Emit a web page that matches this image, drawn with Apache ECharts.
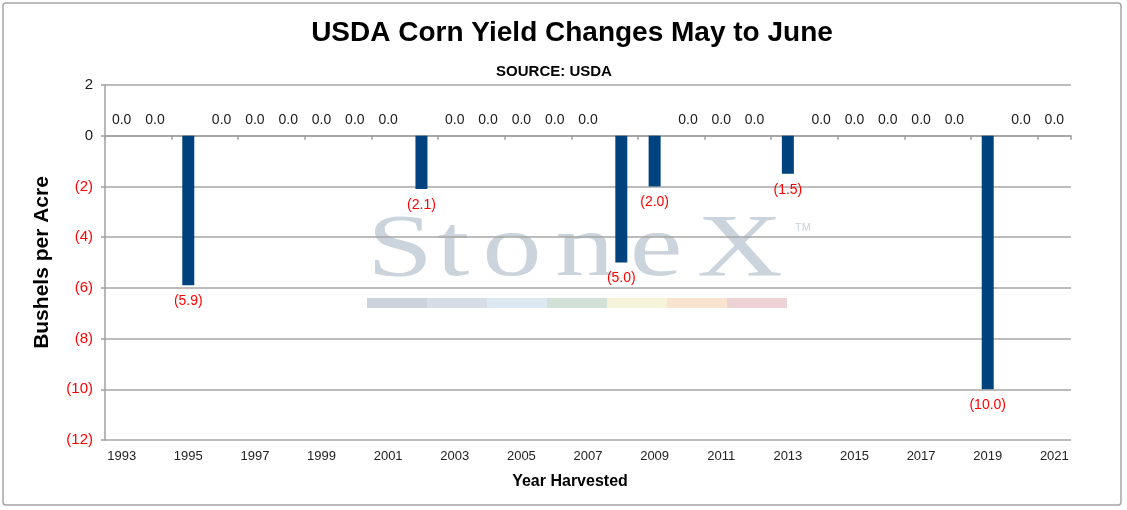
<!DOCTYPE html>
<html>
<head>
<meta charset="utf-8">
<script src="https://cdn.jsdelivr.net/npm/echarts@6/dist/echarts.min.js"></script>
<style>
html,body{margin:0;padding:0;background:#fff;}
#chart{width:1127px;height:510px;}
</style>
</head>
<body>
<div id="chart"></div>
<script>
const years = ['1993','1994','1995','1996','1997','1998','1999','2000','2001','2002','2003','2004','2005','2006','2007','2008','2009','2010','2011','2012','2013','2014','2015','2016','2017','2018','2019','2020','2021'];
const yieldChange = [0,0,-5.9,0,0,0,0,0,0,-2.1,0,0,0,0,0,-5.0,-2.0,0,0,0,-1.5,0,0,0,0,0,-10.0,0,0];
const yMin = -12, yMax = 2, yStep = 2;

const FONT = '"Liberation Sans", Arial, sans-serif';
const fmt = v => v < 0 ? '(' + Math.abs(v).toFixed(1) + ')' : v.toFixed(1);

const barData = yieldChange.map(v => ({
  value: v,
  label: {
    position: v < 0 ? 'bottom' : 'top',
    distance: 9,
    color: v < 0 ? '#ff0000' : '#1a1a1a'
  }
}));

const wmColor = '#cbd3dc';
const letters = [['S',400],['t',453],['o',512],['n',585],['e',656],['X',740]];
const stripColors = ['#cdd3dc','#d6dde6','#dde9f2','#d3e2d8','#f5f4db','#f8e4cf','#eed3d6'];

const graphics = [
  {type:'rect', shape:{x:3,y:3,width:1118,height:502,r:3}, style:{fill:'none',stroke:'#a6a6a6',lineWidth:1.5}, z:-20},
  {type:'text', x:572, y:33, style:{text:'USDA Corn Yield Changes May to June', font:'bold 28px '+FONT, fill:'#000', textAlign:'center', textVerticalAlign:'middle'}},
  {type:'text', x:554, y:72, style:{text:'SOURCE: USDA', font:'bold 15px '+FONT, fill:'#000', textAlign:'center', textVerticalAlign:'middle'}},
  {type:'text', x:570, y:482, style:{text:'Year Harvested', font:'bold 16px '+FONT, fill:'#000', textAlign:'center', textVerticalAlign:'middle'}},
  {type:'text', x:803, y:228, z:-10, style:{text:'TM', font:'11px '+FONT, fill:wmColor, textAlign:'center', textVerticalAlign:'middle'}}
];
letters.forEach(([ch,x]) => {
  graphics.push({type:'text', x:x, y:252, scaleX:1.35, z:-10,
    style:{text:ch, font:'88px "Liberation Serif", "Times New Roman", serif', fill:wmColor, textAlign:'center', textVerticalAlign:'middle'}});
});
stripColors.forEach((c,i) => {
  graphics.push({type:'rect', z:-10, shape:{x:367+i*60,y:298,width:60,height:10}, style:{fill:c}});
});

const chart = echarts.init(document.getElementById('chart'));
chart.setOption({
  animation:false,
  backgroundColor:'#fff',
  textStyle:{fontFamily:FONT},
  grid:{left:105,right:56,top:85,bottom:70,containLabel:false},
  graphic:graphics,
  xAxis:[
    {type:'category', data:years, position:'bottom',
     axisLine:{show:false,onZero:false}, axisTick:{show:false}, splitLine:{show:false},
     axisLabel:{interval:1, color:'#222', fontSize:13, margin:10, fontFamily:FONT}},
    {type:'category', data:years, position:'bottom',
     axisLine:{show:true,onZero:true,lineStyle:{color:'#a0a0a0',width:1.5}},
     axisTick:{show:true,length:4,lineStyle:{color:'#a0a0a0',width:1.5}},
     axisLabel:{show:false}, splitLine:{show:false}}
  ],
  yAxis:{type:'value', min:yMin, max:yMax, interval:yStep,
    name:'Bushels per Acre', nameLocation:'middle', nameGap:52,
    nameTextStyle:{fontSize:21, fontWeight:'bold', color:'#000', fontFamily:FONT},
    axisLine:{show:true, lineStyle:{color:'#a0a0a0', width:1.5}},
    axisTick:{show:true, length:4, lineStyle:{color:'#a0a0a0', width:1.5}},
    splitLine:{show:true, lineStyle:{color:'#a6a6a6', width:1.5}},
    axisLabel:{fontSize:15, margin:12, fontFamily:FONT,
      formatter: v => v < 0 ? '(' + Math.abs(v) + ')' : String(v),
      color: v => Number(v) < 0 ? '#ff0000' : '#1a1a1a'}
  },
  series:[{
    type:'bar', xAxisIndex:0, data:barData, barWidth:'36%',
    itemStyle:{color:'#00427d'},
    label:{show:true, fontSize:14, fontFamily:FONT, formatter: p => fmt(p.value)}
  }]
});
</script>
</body>
</html>
